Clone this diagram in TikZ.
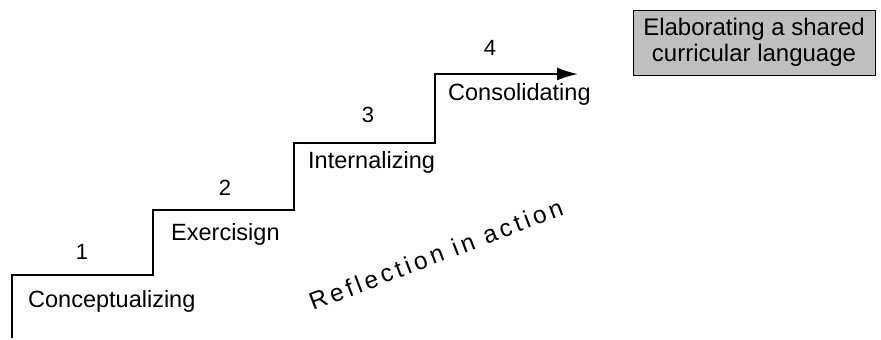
\documentclass[tikz,border=0pt]{standalone}
\usepackage{fontspec}
\setmainfont{Liberation Sans}
\usetikzlibrary{arrows.meta}
\begin{document}
\begin{tikzpicture}[x=1pt,y=-1pt,
  lbl/.style={anchor=base west,inner sep=0pt,font=\fontsize{23.5}{27}\selectfont},
  num/.style={anchor=base,inner sep=0pt,font=\fontsize{22}{26}\selectfont},
  stair/.style={line width=1.9pt,line join=miter},
  boxed/.style={draw=black,line width=0.9pt,fill=black!25,inner sep=0pt,minimum width=242pt,minimum height=65pt,align=center,font=\fontsize{24}{26.5}\selectfont}]
\useasboundingbox (0,0) rectangle (881,340);
% staircase corners
\coordinate (s0) at (12,338);
\coordinate (s1) at (12,275);
\coordinate (s2) at (153,275);
\coordinate (s3) at (153,210);
\coordinate (s4) at (294,210);
\coordinate (s5) at (294,143);
\coordinate (s6) at (435,143);
\coordinate (s7) at (435,74);
\coordinate (s8) at (578,74);
\draw[stair,-{Latex[length=21pt,width=13pt]}] (s0) -- (s1) -- (s2) -- (s3) -- (s4) -- (s5) -- (s6) -- (s7) -- (s8);
% step numbers
\node[num] (n1) at (82,259) {1};
\node[num] (n2) at (225,195) {2};
\node[num] (n3) at (368,122) {3};
\node[num] (n4) at (490,55) {4};
% step labels
\node[lbl] (l1) at (28,307) {Conceptualizing};
\node[lbl] (l2) at (171,240) {Exercisign};
\node[lbl] (l3) at (308,168) {Internalizing};
\node[lbl] (l4) at (448,100) {Consolidating};
% rotated caption
\node[anchor=base west,inner sep=0pt,rotate=21,font=\fontsize{24.5}{28}\selectfont\addfontfeature{LetterSpace=15}] (refl) at (313,311) {Reflection in action};
% box
\node[boxed] (box) at (754,42.5) {Elaborating a shared\\curricular language};
\end{tikzpicture}
\end{document}
